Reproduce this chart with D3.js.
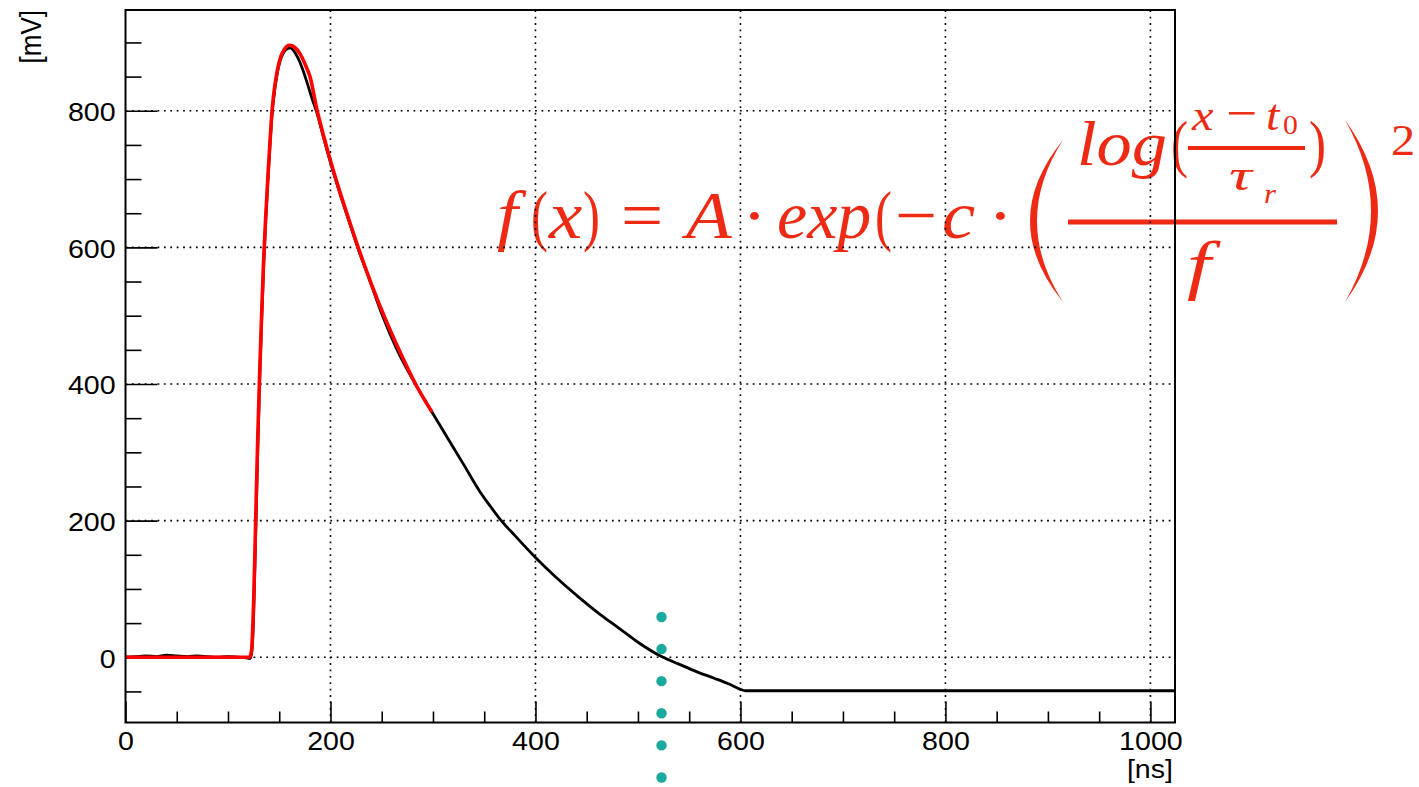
<!DOCTYPE html>
<html>
<head>
<meta charset="utf-8">
<script src="https://cdn.jsdelivr.net/npm/d3@7"></script>
<style>
  body { margin: 0; background: #fff; }
  svg { display: block; }
  .axis text, .axis-title { font-family: "Liberation Sans", Arial, sans-serif; font-size: 26px; fill: #000; }
  .formula text { font-family: "Liberation Serif", "Times New Roman", serif; fill: #ee2a14; }
  .formula .it { font-style: italic; }
</style>
</head>
<body>
<svg id="chart" width="1419" height="787"></svg>
<script>
/* global d3 */
'use strict';

// scope trace, [ns, mV]
const waveT = [0, 10, 20, 30, 40, 50, 60, 70, 80, 90, 100, 110, 118, 121, 123, 125, 127, 129, 131, 133,
  135, 137, 139, 141, 143, 146, 149, 152, 155, 158, 161, 164, 168, 172, 177, 182, 187, 193, 200, 209,
  217, 227, 238, 250, 265, 282, 299, 315, 330, 346, 356, 365, 380, 400, 420, 443, 462, 482, 500, 523,
  540, 557, 575, 590, 600, 605, 700, 800, 900, 1024];
const waveV = [0, 1, 2, 1, 3, 2, 1, 2, 1, 0, 1, 0, -1, -2, 5, 60, 180, 300, 410, 500,
  580, 645, 700, 750, 795, 835, 862, 878, 887, 891, 892, 888, 878, 864, 842, 818, 796, 762, 724, 680,
  643, 598, 553, 503, 450, 402, 359, 319, 282, 242, 221, 203, 178, 146, 117, 87, 64, 42, 22, 1,
  -10, -21, -31, -40, -47, -49, -49, -49, -49, -49];

// fitted curve, drawn up to ~300 ns
const fitT = [0, 20, 60, 100, 121, 123, 125, 127, 129, 131, 133, 135, 137, 139, 141, 143, 146, 150,
  155, 160, 165, 170, 175, 180, 187, 193, 200, 209, 217, 227, 240, 255, 270, 283, 299];
const fitV = [0, 0, 0, 0, 0, 10, 80, 200, 320, 420, 510, 590, 650, 705, 755, 800, 840, 872,
  890, 896, 893, 884, 869, 850, 800, 765, 727, 682, 645, 600, 546, 490, 440, 400, 359];

// dotted marker
const markerT = 523;
const markerV = [59, 12, -35, -82, -129, -176];

const xRange = [0, 1024];
const yRange = [-95.5, 947.5];
const xTicks = [0, 200, 400, 600, 800, 1000];
const yTicks = [0, 200, 400, 600, 800];
const xMinor = d3.range(50, 1024, 50).filter(d => d % 200 !== 0);
const yMinor = d3.range(-50, 947, 50).filter(d => d % 200 !== 0);

const svg = d3.select('#chart');
const frame = {left: 125.5, right: 1175, top: 10, bottom: 722.5};
const sx = 1.1;
const txtScale = `scale(${sx},1)`;

const x = d3.scaleLinear().domain(xRange).range([frame.left, frame.right]);
const y = d3.scaleLinear().domain(yRange).range([frame.bottom, frame.top]);

// formula (drawn first, grid and frame lie over it)
const red = '#ee2a14';
const formula = svg.append('g').attr('class', 'formula');

// each glyph group: text, x, baseline, size, italic, horizontal scale
const glyphs = [
  ['f', 497, 238, 68, true, sx], ['(', 531, 238, 68, false, 0.75], ['x', 549, 238, 68, true, sx],
  [')', 583, 238, 68, false, 0.75], ['=', 621, 238, 68, false, sx], ['A', 686, 238, 68, true, sx],
  ['\u00b7', 742, 238, 68, false, sx], ['exp', 777, 238, 68, true, 1], ['(', 875, 238, 68, false, 0.75],
  ['\u2212', 895, 238, 68, false, sx], ['c', 942, 238, 68, true, sx], ['\u00b7', 988, 238, 68, false, sx],
  ['log', 1077, 165, 64, true, sx], ['(', 1171, 165, 64, false, 0.8], [')', 1309, 165, 64, false, 0.8],
  ['x', 1192, 130, 44, true, sx], ['\u2212', 1226, 130, 50, false, sx], ['t', 1266, 130, 44, true, sx],
  ['0', 1283, 134, 27, false, sx],
  ['\u03c4', 1229, 190, 44, true, 1.45], ['r', 1264, 203, 28, true, sx],
  ['f', 1187, 287, 66, true, 1.3],
  ['2', 1391, 155, 44, false, sx]
];
formula.selectAll('text')
  .data(glyphs)
  .join('text')
    .attr('transform', d => `translate(${d[1]},${d[2]}) scale(${d[5]},1)`)
    .attr('class', d => d[4] ? 'it' : null)
    .style('font-size', d => d[3] + 'px')
    .text(d => d[0]);

// fraction bars
formula.append('rect').attr('x', 1188).attr('y', 146).attr('width', 117).attr('height', 4).attr('fill', red);
formula.append('rect').attr('x', 1068).attr('y', 219.5).attr('width', 269).attr('height', 5).attr('fill', red);

// big parentheses
formula.append('path')
  .attr('d', 'M1063,140 Q997,221 1063,302 Q1011,221 1063,140 Z')
  .attr('fill', red);
formula.append('path')
  .attr('d', 'M1345,120 Q1411,211 1345,302 Q1397,211 1345,120 Z')
  .attr('fill', red);

// grid
const grid = svg.append('g').attr('class', 'grid')
  .attr('stroke', '#000').attr('stroke-width', 1.6).attr('stroke-dasharray', '1.8 4.6');
grid.selectAll('line.v')
  .data(xTicks.filter(d => d > 0))
  .join('line').attr('class', 'v')
    .attr('x1', d => x(d)).attr('x2', d => x(d))
    .attr('y1', frame.bottom).attr('y2', frame.top);
grid.selectAll('line.h')
  .data(yTicks)
  .join('line').attr('class', 'h')
    .attr('y1', d => y(d)).attr('y2', d => y(d))
    .attr('x1', frame.left).attr('x2', frame.right);

// axes, ticks pointing inwards
const xAxis = svg.append('g').attr('class', 'axis')
  .attr('transform', `translate(0,${frame.bottom})`)
  .call(d3.axisBottom(x).tickValues(xTicks).tickSize(-21).tickPadding(9).tickFormat(d3.format('d')));
svg.append('g').attr('class', 'axis')
  .attr('transform', `translate(0,${frame.bottom})`)
  .call(d3.axisBottom(x).tickValues(xMinor).tickSize(-11).tickFormat(''));

const yAxis = svg.append('g').attr('class', 'axis')
  .attr('transform', `translate(${frame.left},0)`)
  .call(d3.axisLeft(y).tickValues(yTicks).tickSize(-32).tickPadding(9).tickFormat(d3.format('d')));
svg.append('g').attr('class', 'axis')
  .attr('transform', `translate(${frame.left},0)`)
  .call(d3.axisLeft(y).tickValues(yMinor).tickSize(-16).tickFormat(''));

svg.selectAll('.axis .domain').remove();
svg.selectAll('.axis line').attr('stroke', '#000').attr('stroke-width', 1.6);
xAxis.selectAll('text').attr('transform', txtScale);
yAxis.selectAll('text').attr('dy', '0.38em').attr('transform', txtScale);

// curves
const wave = waveT.map((t, i) => [t, waveV[i]]);
const fit = fitT.map((t, i) => [t, fitV[i]]);
const line = d3.line()
  .x(d => x(d[0]))
  .y(d => y(d[1]))
  .curve(d3.curveMonotoneX);

svg.append('path')
  .datum(wave)
  .attr('d', line)
  .attr('fill', 'none')
  .attr('stroke', '#000')
  .attr('stroke-width', 2.8)
  .attr('stroke-linejoin', 'round');

svg.append('path')
  .datum(fit)
  .attr('d', line)
  .attr('fill', 'none')
  .attr('stroke', '#ff0000')
  .attr('stroke-width', 3.6)
  .attr('stroke-linejoin', 'round');

// frame
svg.append('rect')
  .attr('x', frame.left).attr('y', frame.top)
  .attr('width', frame.right - frame.left).attr('height', frame.bottom - frame.top)
  .attr('fill', 'none').attr('stroke', '#000').attr('stroke-width', 2);

// teal marker dots
svg.selectAll('circle.marker')
  .data(markerV)
  .join('circle').attr('class', 'marker')
    .attr('cx', x(markerT))
    .attr('cy', d => y(d))
    .attr('r', 5.2)
    .attr('fill', '#1aa99d');

// axis titles
svg.append('text').attr('class', 'axis-title')
  .attr('transform', `translate(1173,778) ${txtScale}`)
  .attr('text-anchor', 'end')
  .text('[ns]');
svg.append('text').attr('class', 'axis-title')
  .attr('transform', 'translate(41,10) rotate(-90) scale(1,1.1)')
  .attr('text-anchor', 'end')
  .text('[mV]');
</script>
</body>
</html>
